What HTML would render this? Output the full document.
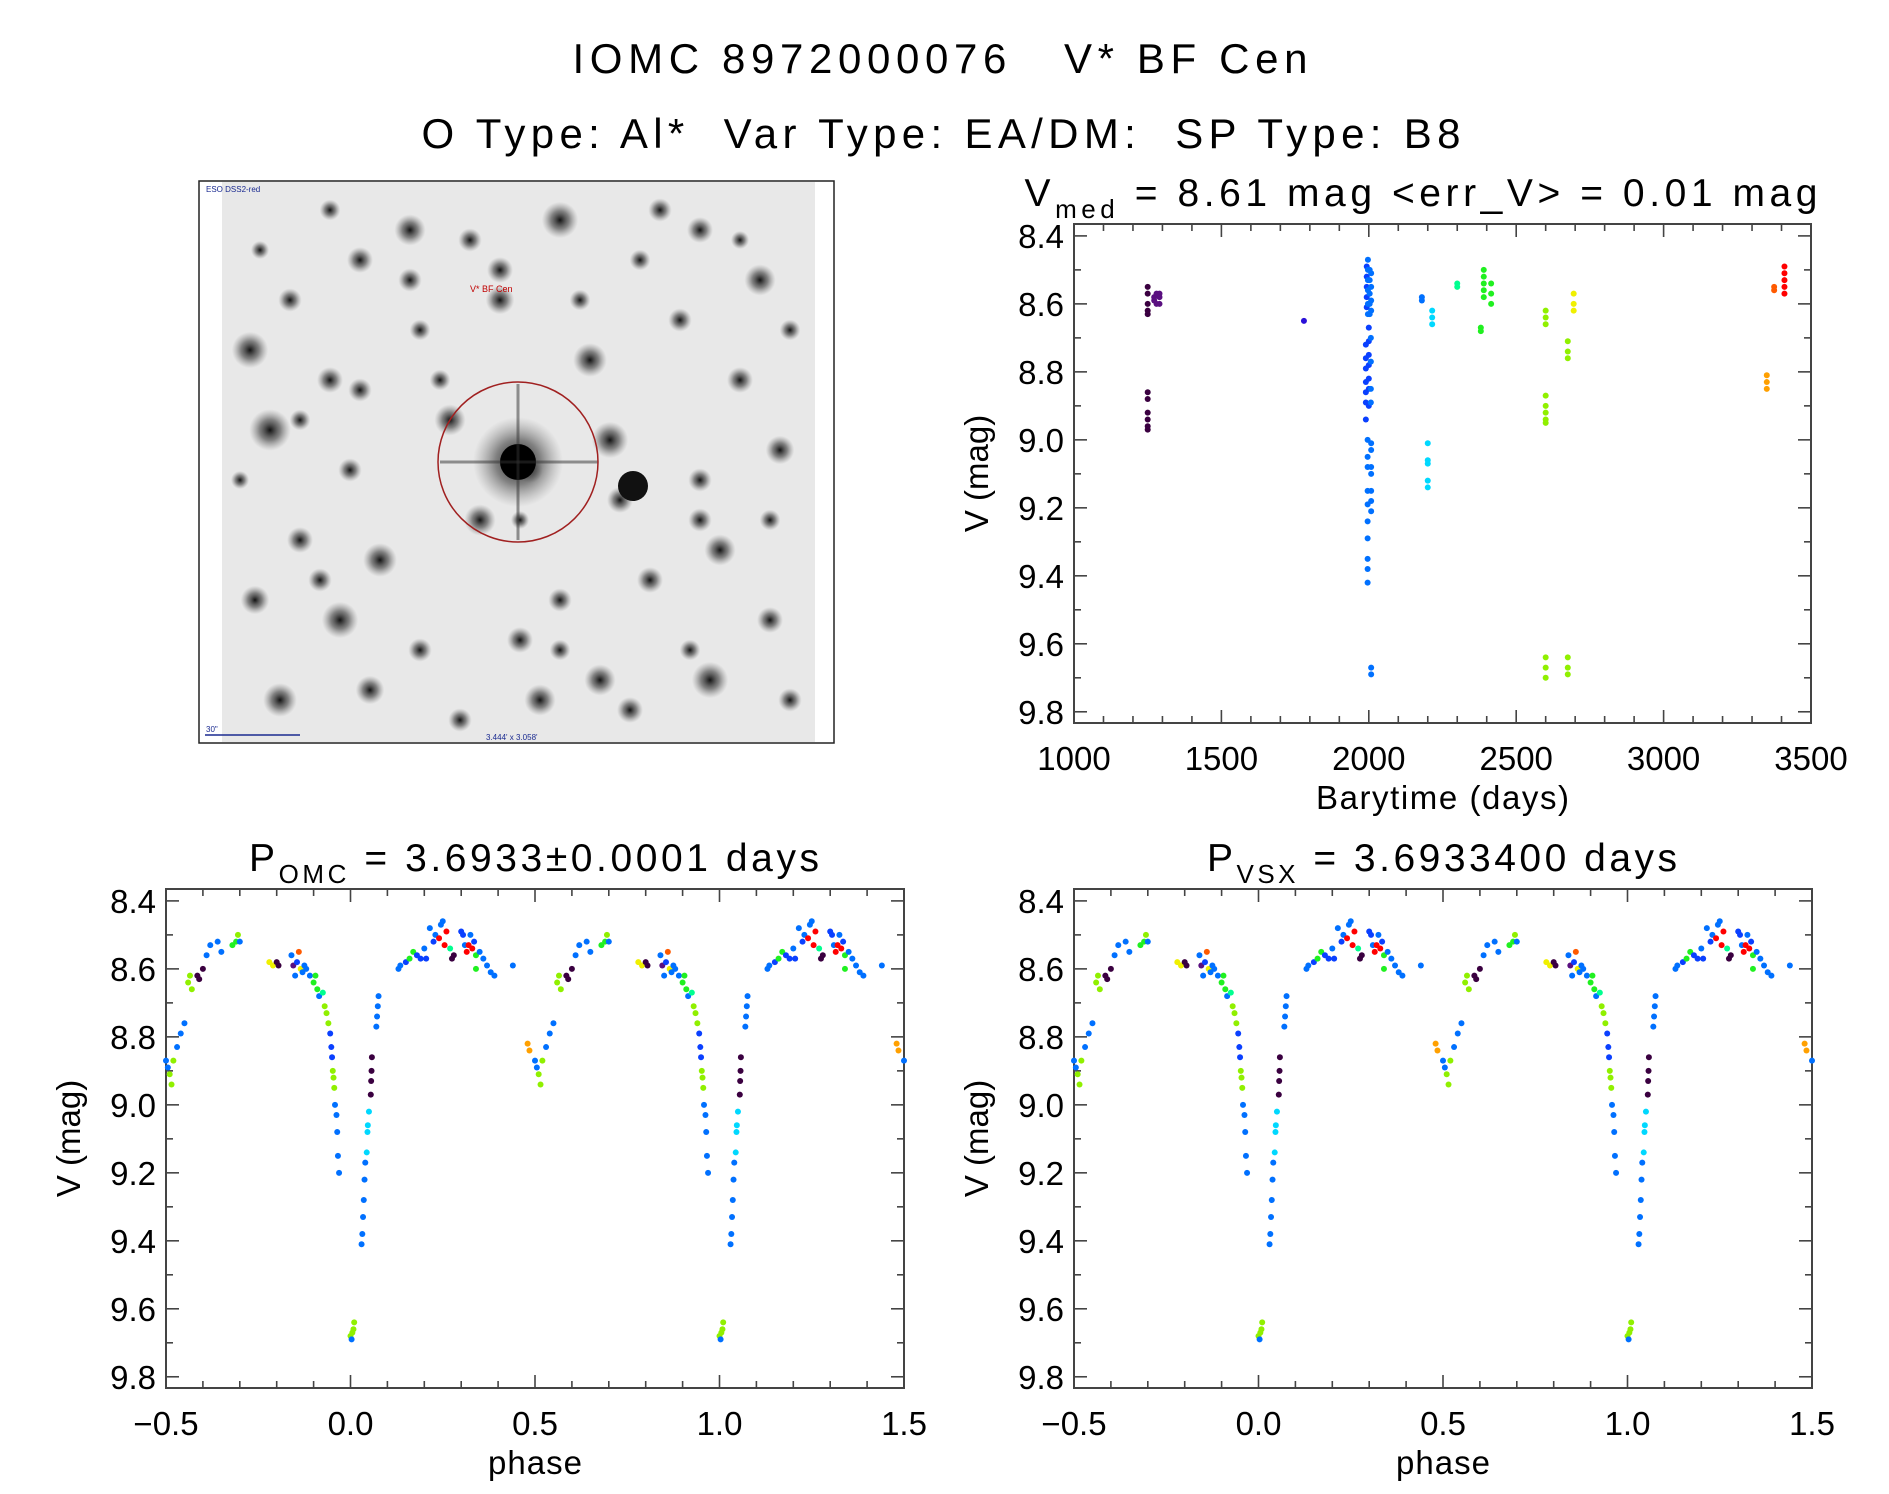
<!DOCTYPE html>
<html><head><meta charset="utf-8">
<style>
html,body{margin:0;padding:0;background:#fff;}
svg{display:block;font-family:"Liberation Sans","DejaVu Sans",sans-serif;}
</style></head>
<body>
<svg id="fig" width="1889" height="1494" viewBox="0 0 1889 1494" xmlns="http://www.w3.org/2000/svg">
<text x="940" y="73" font-size="42" text-anchor="middle" textLength="735" lengthAdjust="spacing" xml:space="preserve">IOMC 8972000076   V* BF Cen</text>
<text x="941" y="148" font-size="42" text-anchor="middle" textLength="1039" lengthAdjust="spacing" xml:space="preserve">O Type: Al*  Var Type: EA/DM:  SP Type: B8</text>
<g id="img"></g>
<g id="p1"></g>
<g id="p2"></g>
<g id="p3"></g>
</svg>
<script>
const NS="http://www.w3.org/2000/svg";
const palette=["#3a0040","#5a1080","#2a10d8","#0a40ff","#0070ff","#00d8ff","#00ff90","#20f020","#90f000","#f0f000","#ffa000","#ff5a00","#ff0000"];
// light curve (barytime, mag, color index)
const lcTime=[1250,1250,1250,1250,1250,1250,1250,1250,1250,1250,1250,1272,1272,1280,1280,1290,1290,1290,1780,
1993,1993,1993,1993,1993,1997,1997,1997,1997,1997,1997,2003,2003,2003,2003,2003,2008,2008,2008,2008,
1990,1990,1990,1990,1990,1990,1990,2000,2000,2000,2000,2000,2000,2000,2007,2007,2007,2007,
1996,1996,1996,1996,1996,1996,1996,1996,1996,1996,2008,2008,2008,2008,2008,2008,2008,2008,2008,
2180,2180,2200,2200,2200,2200,2200,2215,2215,2215,2300,2300,2380,2380,2390,2390,2390,2390,2390,2415,2415,2415,
2600,2600,2600,2600,2600,2600,2600,2600,2600,2600,2600,2675,2675,2675,2675,2675,2675,2695,2695,2695,
3350,3350,3350,3375,3375,3410,3410,3410,3410,3410];
const lcMag=[8.55,8.57,8.60,8.62,8.63,8.86,8.88,8.92,8.94,8.96,8.97,8.58,8.59,8.57,8.60,8.57,8.58,8.60,8.65,
8.49,8.52,8.55,8.58,8.61,8.47,8.50,8.53,8.56,8.60,8.63,8.50,8.53,8.57,8.60,8.63,8.51,8.55,8.59,8.62,
8.72,8.76,8.79,8.83,8.86,8.89,8.94,8.67,8.71,8.75,8.78,8.82,8.85,8.90,8.70,8.77,8.85,8.89,
9.00,9.05,9.08,9.15,9.19,9.24,9.29,9.35,9.38,9.42,9.01,9.03,9.08,9.10,9.15,9.18,9.21,9.67,9.69,
8.58,8.59,9.01,9.06,9.07,9.12,9.14,8.62,8.64,8.66,8.54,8.55,8.67,8.68,8.50,8.52,8.54,8.56,8.58,8.54,8.57,8.60,
8.62,8.64,8.66,8.87,8.90,8.92,8.94,8.95,9.64,9.67,9.70,8.71,8.74,8.76,9.64,9.67,9.69,8.57,8.60,8.62,
8.81,8.83,8.85,8.55,8.56,8.49,8.51,8.53,8.55,8.57];
const lcCol=[0,0,0,0,0,0,0,0,0,0,0,1,1,1,1,1,1,1,2,
3,3,3,3,3,4,4,4,4,4,4,4,4,4,4,4,4,4,4,4,
3,3,3,3,3,3,3,3,3,3,3,3,3,3,4,4,4,4,
4,4,4,4,4,4,4,4,4,4,4,4,4,4,4,4,4,4,4,
4,4,5,5,5,5,5,5,5,5,6,6,7,7,7,7,7,7,7,7,7,7,
8,8,8,8,8,8,8,8,8,8,8,8,8,8,8,8,8,9,9,9,
10,10,10,11,11,12,12,12,12,12];
// phased data (phase in [0,1), mag, color index)
const phPhase=[0.000,0.005,0.003,0.008,0.010,0.030,0.032,0.034,0.036,0.038,0.040,0.044,0.046,0.047,0.050,
0.055,0.056,0.057,0.058,0.070,0.072,0.074,0.076,
0.130,0.135,0.150,0.160,0.170,0.180,0.190,0.200,0.205,0.215,0.225,0.230,0.240,0.245,0.250,0.255,0.260,0.270,0.275,0.280,
0.300,0.305,0.310,0.315,0.320,0.325,0.330,0.335,0.340,0.340,0.350,0.360,0.370,0.380,0.390,0.440,
0.480,0.485,0.500,0.505,0.510,0.515,0.520,0.530,0.540,0.550,
0.560,0.565,0.570,0.585,0.590,0.600,0.610,0.620,0.640,0.650,0.680,0.690,0.695,0.700,
0.780,0.790,0.800,0.805,0.840,0.845,0.850,0.855,0.860,0.865,0.870,0.875,0.880,0.890,0.900,0.905,0.910,0.915,0.925,
0.930,0.935,0.940,0.945,0.948,0.950,0.952,0.954,0.956,0.958,0.962,0.964,0.966,0.969];
const phMag=[9.68,9.67,9.69,9.66,9.64,9.41,9.38,9.33,9.28,9.22,9.17,9.14,9.08,9.06,9.02,
8.97,8.93,8.90,8.86,8.77,8.74,8.71,8.68,
8.60,8.59,8.58,8.57,8.55,8.56,8.57,8.54,8.57,8.48,8.52,8.50,8.51,8.47,8.46,8.53,8.49,8.54,8.57,8.56,
8.49,8.50,8.53,8.55,8.53,8.50,8.54,8.52,8.56,8.60,8.55,8.57,8.59,8.61,8.62,8.59,
8.82,8.84,8.87,8.89,8.91,8.94,8.87,8.83,8.79,8.76,
8.64,8.62,8.66,8.62,8.63,8.60,8.56,8.53,8.52,8.55,8.53,8.52,8.50,8.52,
8.58,8.59,8.58,8.59,8.56,8.59,8.62,8.58,8.55,8.60,8.61,8.59,8.60,8.62,8.64,8.62,8.66,8.68,8.67,
8.71,8.73,8.76,8.79,8.83,8.86,8.90,8.92,8.95,9.00,9.03,9.08,9.15,9.20];
const phCol=[8,8,4,8,8,4,4,4,4,4,4,5,5,5,5,
0,0,0,0,4,4,4,4,
4,4,3,7,7,3,3,4,3,4,3,4,12,4,4,12,12,6,0,0,
3,3,4,12,12,4,12,3,7,7,4,4,4,4,4,4,
10,10,4,4,8,8,8,4,4,4,
8,8,8,0,0,0,4,4,4,4,7,7,8,4,
9,9,0,0,4,1,4,3,11,9,4,4,4,4,7,7,7,4,6,
8,8,8,3,3,3,8,8,8,4,4,4,4,4];
const yTicks=[8.4,8.6,8.8,9.0,9.2,9.4,9.6,9.8];
const lcXTicks=[1000,1500,2000,2500,3000,3500];
const phXTicks=[-0.5,0.0,0.5,1.0,1.5];

function el(tag,attrs,parent,name){const e=document.createElementNS(NS,tag);for(const k in attrs)e.setAttribute(k,attrs[k]);


parent.appendChild(e);return e;}

function panel(g,box,xmin,xmax,ymin,ymax,xt,xfmt,xMinorStep,ylabel,xlabel,xlabW){
  const X=v=>box.x0+(v-xmin)/(xmax-xmin)*(box.x1-box.x0);
  const Y=v=>box.y0+(v-ymin)/(ymax-ymin)*(box.y1-box.y0);
  el('rect',{x:box.x0,y:box.y0,width:box.x1-box.x0,height:box.y1-box.y0,fill:'none',stroke:'#444','stroke-width':2},g,'plot-frame');
  const n=Math.round((xmax-xmin)/xMinorStep);
  for(let i=0;i<=n;i++){const v=xmin+i*xMinorStep;const maj=xt.some(t=>Math.abs(t-v)<1e-6);const L=maj?13:7;const x=X(v);
    el('line',{x1:x,x2:x,y1:box.y1,y2:box.y1-L,stroke:'#444','stroke-width':1.6},g,'x-tick');
    el('line',{x1:x,x2:x,y1:box.y0,y2:box.y0+L,stroke:'#444','stroke-width':1.6},g,'x-tick-top');}
  xt.forEach(t=>{const tx=el('text',{x:X(t),y:box.y1+47,'font-size':33,'text-anchor':'middle'},g,'x-tick-label');tx.textContent=xfmt(t);});
  for(let v=8.4;v<=9.801;v+=0.1){const maj=Math.abs(v*5-Math.round(v*5))<1e-6;const L=maj?13:7;const y=Y(v);
    el('line',{x1:box.x0,x2:box.x0+L,y1:y,y2:y,stroke:'#444','stroke-width':1.6},g,'y-tick');
    el('line',{x1:box.x1,x2:box.x1-L,y1:y,y2:y,stroke:'#444','stroke-width':1.6},g,'y-tick-right');}
  yTicks.forEach(t=>{const ty=el('text',{x:box.x0-10,y:Y(t)+12,'font-size':33,'text-anchor':'end'},g,'y-tick-label');ty.textContent=t.toFixed(1);});
  const yl=el('text',{x:0,y:0,'font-size':33,'text-anchor':'middle',transform:`translate(${box.x0-86},${(box.y0+box.y1)/2}) rotate(-90)`},g,'y-axis-title');yl.textContent=ylabel;
  const xl=el('text',{x:(box.x0+box.x1)/2,y:box.y1+86,'font-size':33,'text-anchor':'middle',textLength:xlabW,lengthAdjust:'spacing'},g,'x-axis-title');xl.textContent=xlabel;
  return {X,Y};
}
function title(g,x,y,w,main,sub,rest){
  const t=el('text',{x:x,y:y,'font-size':39,'text-anchor':'middle',textLength:w,lengthAdjust:'spacing'},g,'panel-title');
  const a=document.createElementNS(NS,'tspan');a.textContent=main;t.appendChild(a);
  const b=document.createElementNS(NS,'tspan');b.setAttribute('font-size','26');b.setAttribute('dy','12');b.textContent=sub;t.appendChild(b);
  const c=document.createElementNS(NS,'tspan');c.setAttribute('dy','-12');c.textContent=rest;t.appendChild(c);
}
const YMIN=8.365,YMAX=9.833;
const g1=document.getElementById('p1');
const b1={x0:1074,x1:1811,y0:224,y1:723};
title(g1,1421,206,793,'V','med',' = 8.61 mag <err_V> = 0.01 mag');
const a1=panel(g1,b1,1000,3500,YMIN,YMAX,lcXTicks,v=>String(v),100,'V (mag)','Barytime (days)',253);
for(let i=0;i<lcTime.length;i++){
  el('circle',{cx:a1.X(lcTime[i]),cy:a1.Y(lcMag[i]),r:3,fill:palette[lcCol[i]]},g1,'data-point');}
function phasePanel(id,x0,tx,w,main,sub,rest){
  const g=document.getElementById(id);
  const b={x0:x0,x1:x0+738,y0:889,y1:1388};
  title(g,tx,871,w,main,sub,rest);
  const a=panel(g,b,-0.5,1.5,YMIN,YMAX,phXTicks,v=>(v<0?'\u2212':'')+Math.abs(v).toFixed(1),0.1,'V (mag)','phase',94);
  for(let k=-1;k<=1;k++){
    for(let i=0;i<phPhase.length;i++){const p=phPhase[i]+k;if(p<-0.5||p>1.5)continue;
      el('circle',{cx:a.X(p),cy:a.Y(phMag[i]),r:3,fill:palette[phCol[i]]},g,'data-point');}}
}
phasePanel('p2',166,534,570,'P','OMC',' = 3.6933\u00b10.0001 days');
phasePanel('p3',1074,1442,470,'P','VSX',' = 3.6933400 days');
// sky image
const gi=document.getElementById('img');
el('rect',{x:199,y:181,width:635,height:562,fill:'#fff',stroke:'#222','stroke-width':1.5},gi,'image-frame');
const defs=el('defs',{},gi,'defs');
const rg=el('radialGradient',{id:'star'},defs,'star-gradient');
el('stop',{offset:'0','stop-color':'#111','stop-opacity':'1'},rg,'stop');
el('stop',{offset:'0.5','stop-color':'#555','stop-opacity':'0.7'},rg,'stop');
el('stop',{offset:'1','stop-color':'#888','stop-opacity':'0'},rg,'stop');
el('rect',{x:222,y:182,width:593,height:560,fill:'#e8e8e8'},gi,'sky-background');
const starX=[410,360,470,560,640,700,760,290,250,330,420,500,590,680,740,790,270,350,450,530,610,700,780,300,380,480,560,650,720,255,340,420,520,600,690,770,280,370,460,540,630,710,790,260,330,410,500,580,660,740,300,360,440,520,620,700,770,240,320,560];
const starY=[230,260,240,220,260,230,280,300,350,380,330,300,360,320,380,330,430,470,420,470,440,480,450,540,560,520,600,580,550,600,620,650,640,680,650,620,700,690,720,700,710,680,700,250,210,280,270,300,210,240,420,390,380,520,500,520,520,480,580,650];
const starR=[12,10,9,14,8,10,12,9,14,10,8,11,13,9,10,8,16,9,12,10,14,9,11,10,13,12,9,10,12,11,14,9,10,12,8,10,13,11,9,12,10,14,9,7,8,9,10,8,9,7,8,9,8,7,10,9,8,7,9,8];
for(let i=0;i<starX.length;i++){el('circle',{cx:starX[i],cy:starY[i],r:starR[i]*1.3,fill:'url(#star)'},gi,'star');}
el('circle',{cx:518,cy:462,r:45,fill:'url(#star)'},gi,'target-star-glow');
el('circle',{cx:518,cy:462,r:18,fill:'#000'},gi,'target-star');
el('line',{x1:440,x2:598,y1:462,y2:462,stroke:'#333','stroke-width':3,opacity:0.5},gi,'spike');
el('line',{x1:518,x2:518,y1:384,y2:540,stroke:'#333','stroke-width':3,opacity:0.5},gi,'spike');
el('circle',{cx:633,cy:486,r:15,fill:'#111'},gi,'neighbor-star');
el('circle',{cx:518,cy:462,r:80,fill:'none',stroke:'#a02020','stroke-width':1.5},gi,'target-circle');
const lbl=el('text',{x:470,y:292,'font-size':9,fill:'#c00000'},gi,'target-label');lbl.textContent='V* BF Cen';
const l2=el('text',{x:206,y:192,'font-size':8,fill:'#1a2a90'},gi,'survey-label');l2.textContent='ESO DSS2-red';
el('line',{x1:205,x2:300,y1:735,y2:735,stroke:'#1a2a90','stroke-width':1.5},gi,'scale-bar');
const l3=el('text',{x:206,y:732,'font-size':8,fill:'#1a2a90'},gi,'scale-label');l3.textContent='30"';
const l4=el('text',{x:486,y:740,'font-size':8,fill:'#1a2a90'},gi,'fov-label');l4.textContent='3.444\' x 3.058\'';
</script>
</body></html>
